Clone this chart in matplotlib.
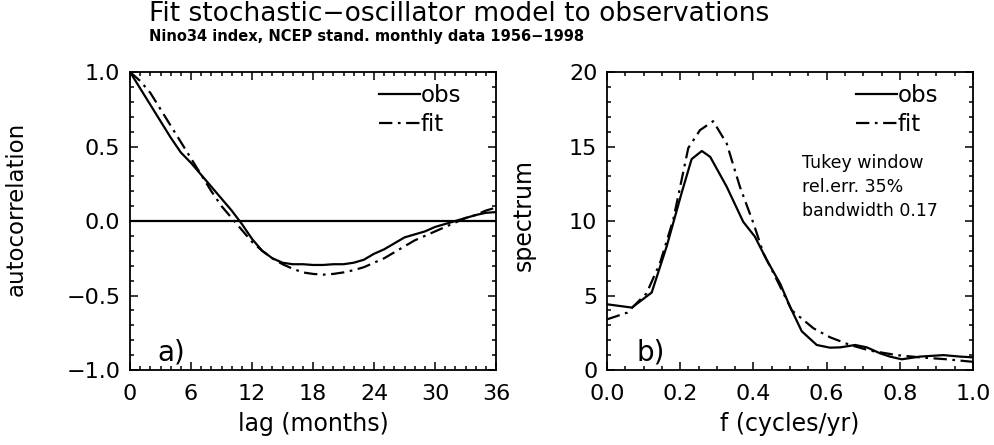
import numpy as np
import matplotlib
matplotlib.use("Agg")
from matplotlib import pyplot as plt
from matplotlib.ticker import MultipleLocator

# autocorrelation, panel a)
lag = np.arange(0, 37)
acf_obs = [1.0, 0.89, 0.78, 0.67, 0.56, 0.46, 0.39, 0.31, 0.23, 0.15,
           0.07, -0.02, -0.12, -0.20, -0.25, -0.28, -0.29, -0.29, -0.295, -0.295,
           -0.29, -0.29, -0.28, -0.26, -0.22, -0.19, -0.15, -0.11, -0.09, -0.07,
           -0.04, -0.02, 0.0, 0.02, 0.04, 0.055, 0.06]
acf_fit = [1.0, 0.94, 0.86, 0.75, 0.64, 0.53, 0.42, 0.31, 0.20, 0.10,
           0.02, -0.06, -0.14, -0.20, -0.25, -0.29, -0.32, -0.345, -0.355, -0.36,
           -0.355, -0.345, -0.33, -0.31, -0.28, -0.25, -0.21, -0.17, -0.13, -0.10,
           -0.07, -0.04, -0.01, 0.02, 0.04, 0.07, 0.09]

# spectrum, panel b)
f_obs = [0.0, 0.068, 0.122, 0.163, 0.204, 0.231, 0.259, 0.282, 0.327, 0.372,
         0.404, 0.436, 0.473, 0.5, 0.532, 0.573, 0.609, 0.637, 0.678, 0.71,
         0.746, 0.773, 0.805, 0.855, 0.919, 0.965, 1.0]
spec_obs = [4.41, 4.19, 5.2, 8.3, 11.9, 14.15, 14.7, 14.3, 12.3, 9.95,
            8.95, 7.4, 5.8, 4.25, 2.6, 1.68, 1.5, 1.52, 1.68, 1.52,
            1.12, 0.9, 0.72, 0.9, 1.0, 0.9, 0.85]
f_fit = [0.0, 0.055, 0.108, 0.145, 0.181, 0.222, 0.254, 0.29, 0.327, 0.363,
         0.40, 0.427, 0.464, 0.505, 0.564, 0.609, 0.664, 0.719, 0.792, 0.855,
         0.928, 0.978, 1.0]
spec_fit = [3.4, 3.85, 5.15, 7.2, 10.1, 14.9, 16.1, 16.7, 15.2, 12.3,
            9.85, 7.85, 6.05, 4.0, 2.8, 2.2, 1.68, 1.3, 1.0, 0.85,
            0.72, 0.6, 0.55]

plt.rcParams["font.family"] = "DejaVu Sans"
DASHDOT = (0, (6, 2.5, 1.2, 2.5))
LW = 1.6

fig = plt.figure(figsize=(9.94, 4.45), dpi=100)
axa = fig.add_axes([0.1308, 0.1685, 0.3682, 0.6697])
axb = fig.add_axes([0.6107, 0.1685, 0.3682, 0.6697])

def style(ax):
	for s in ax.spines.values():
		s.set_linewidth(1.3)
	ax.tick_params(which="both", direction="in", top=True, right=True, labelsize=16, width=1.1)
	ax.tick_params(which="major", length=5.5)
	ax.tick_params(which="minor", length=3)
	ax.tick_params(axis="x", pad=10)
	ax.tick_params(axis="y", pad=7)

def legend(ax):
	ax.legend(loc="upper right", bbox_to_anchor=(0.93, 0.99), frameon=False, fontsize=16.5,
		handlelength=1.75, handletextpad=0.05, labelspacing=0.25, borderaxespad=0)

# a) autocorrelation
axa.plot(lag, acf_obs, color="black", lw=LW, label="obs")
axa.plot(lag, acf_fit, color="black", lw=LW, linestyle=DASHDOT, label="fit")
axa.axhline(0, color="black", lw=LW)
axa.set_xlim(0, 36)
axa.set_ylim(-1, 1)
axa.xaxis.set_major_locator(MultipleLocator(6))
axa.xaxis.set_minor_locator(MultipleLocator(1))
axa.yaxis.set_major_locator(MultipleLocator(0.5))
axa.yaxis.set_minor_locator(MultipleLocator(0.1))
axa.yaxis.set_major_formatter(lambda v, p: "%.1f" % v if v >= 0 else "\u2212%.1f" % -v)
style(axa)
axa.set_xlabel("lag (months)", fontsize=17, labelpad=6)
axa.set_ylabel("autocorrelation", fontsize=16.5)
axa.yaxis.set_label_coords(-0.28, 0.54)
axa.text(0.075, 0.06, "a)", transform=axa.transAxes, fontsize=20, va="center")
legend(axa)

# b) spectrum
axb.plot(f_obs, spec_obs, color="black", lw=LW, label="obs")
axb.plot(f_fit, spec_fit, color="black", lw=LW, linestyle=DASHDOT, label="fit")
axb.set_xlim(0, 1)
axb.set_ylim(0, 20)
axb.xaxis.set_major_locator(MultipleLocator(0.2))
axb.xaxis.set_minor_locator(MultipleLocator(0.05))
axb.yaxis.set_major_locator(MultipleLocator(5))
axb.yaxis.set_minor_locator(MultipleLocator(1))
axb.xaxis.set_major_formatter(lambda v, p: "%.1f" % v)
style(axb)
axb.set_xlabel("f (cycles/yr)", fontsize=17, labelpad=6)
axb.set_ylabel("spectrum", fontsize=17)
axb.yaxis.set_label_coords(-0.195, 0.52)
axb.text(0.08, 0.06, "b)", transform=axb.transAxes, fontsize=20, va="center")
legend(axb)
axb.text(0.533, 0.725, "Tukey window\nrel.err. 35%\nbandwidth 0.17", transform=axb.transAxes,
	fontsize=12.5, va="top", ha="left", linespacing=1.42)

fig.text(0.15, 0.968, "Fit stochastic\u2212oscillator model to observations", fontsize=19,
	ha="left", va="center")
fig.text(0.15, 0.918, "Nino34 index, NCEP stand. monthly data 1956\u22121998", fontsize=10.5,
	ha="left", va="center", fontweight="bold")

fig.savefig("out.png", dpi=100)
